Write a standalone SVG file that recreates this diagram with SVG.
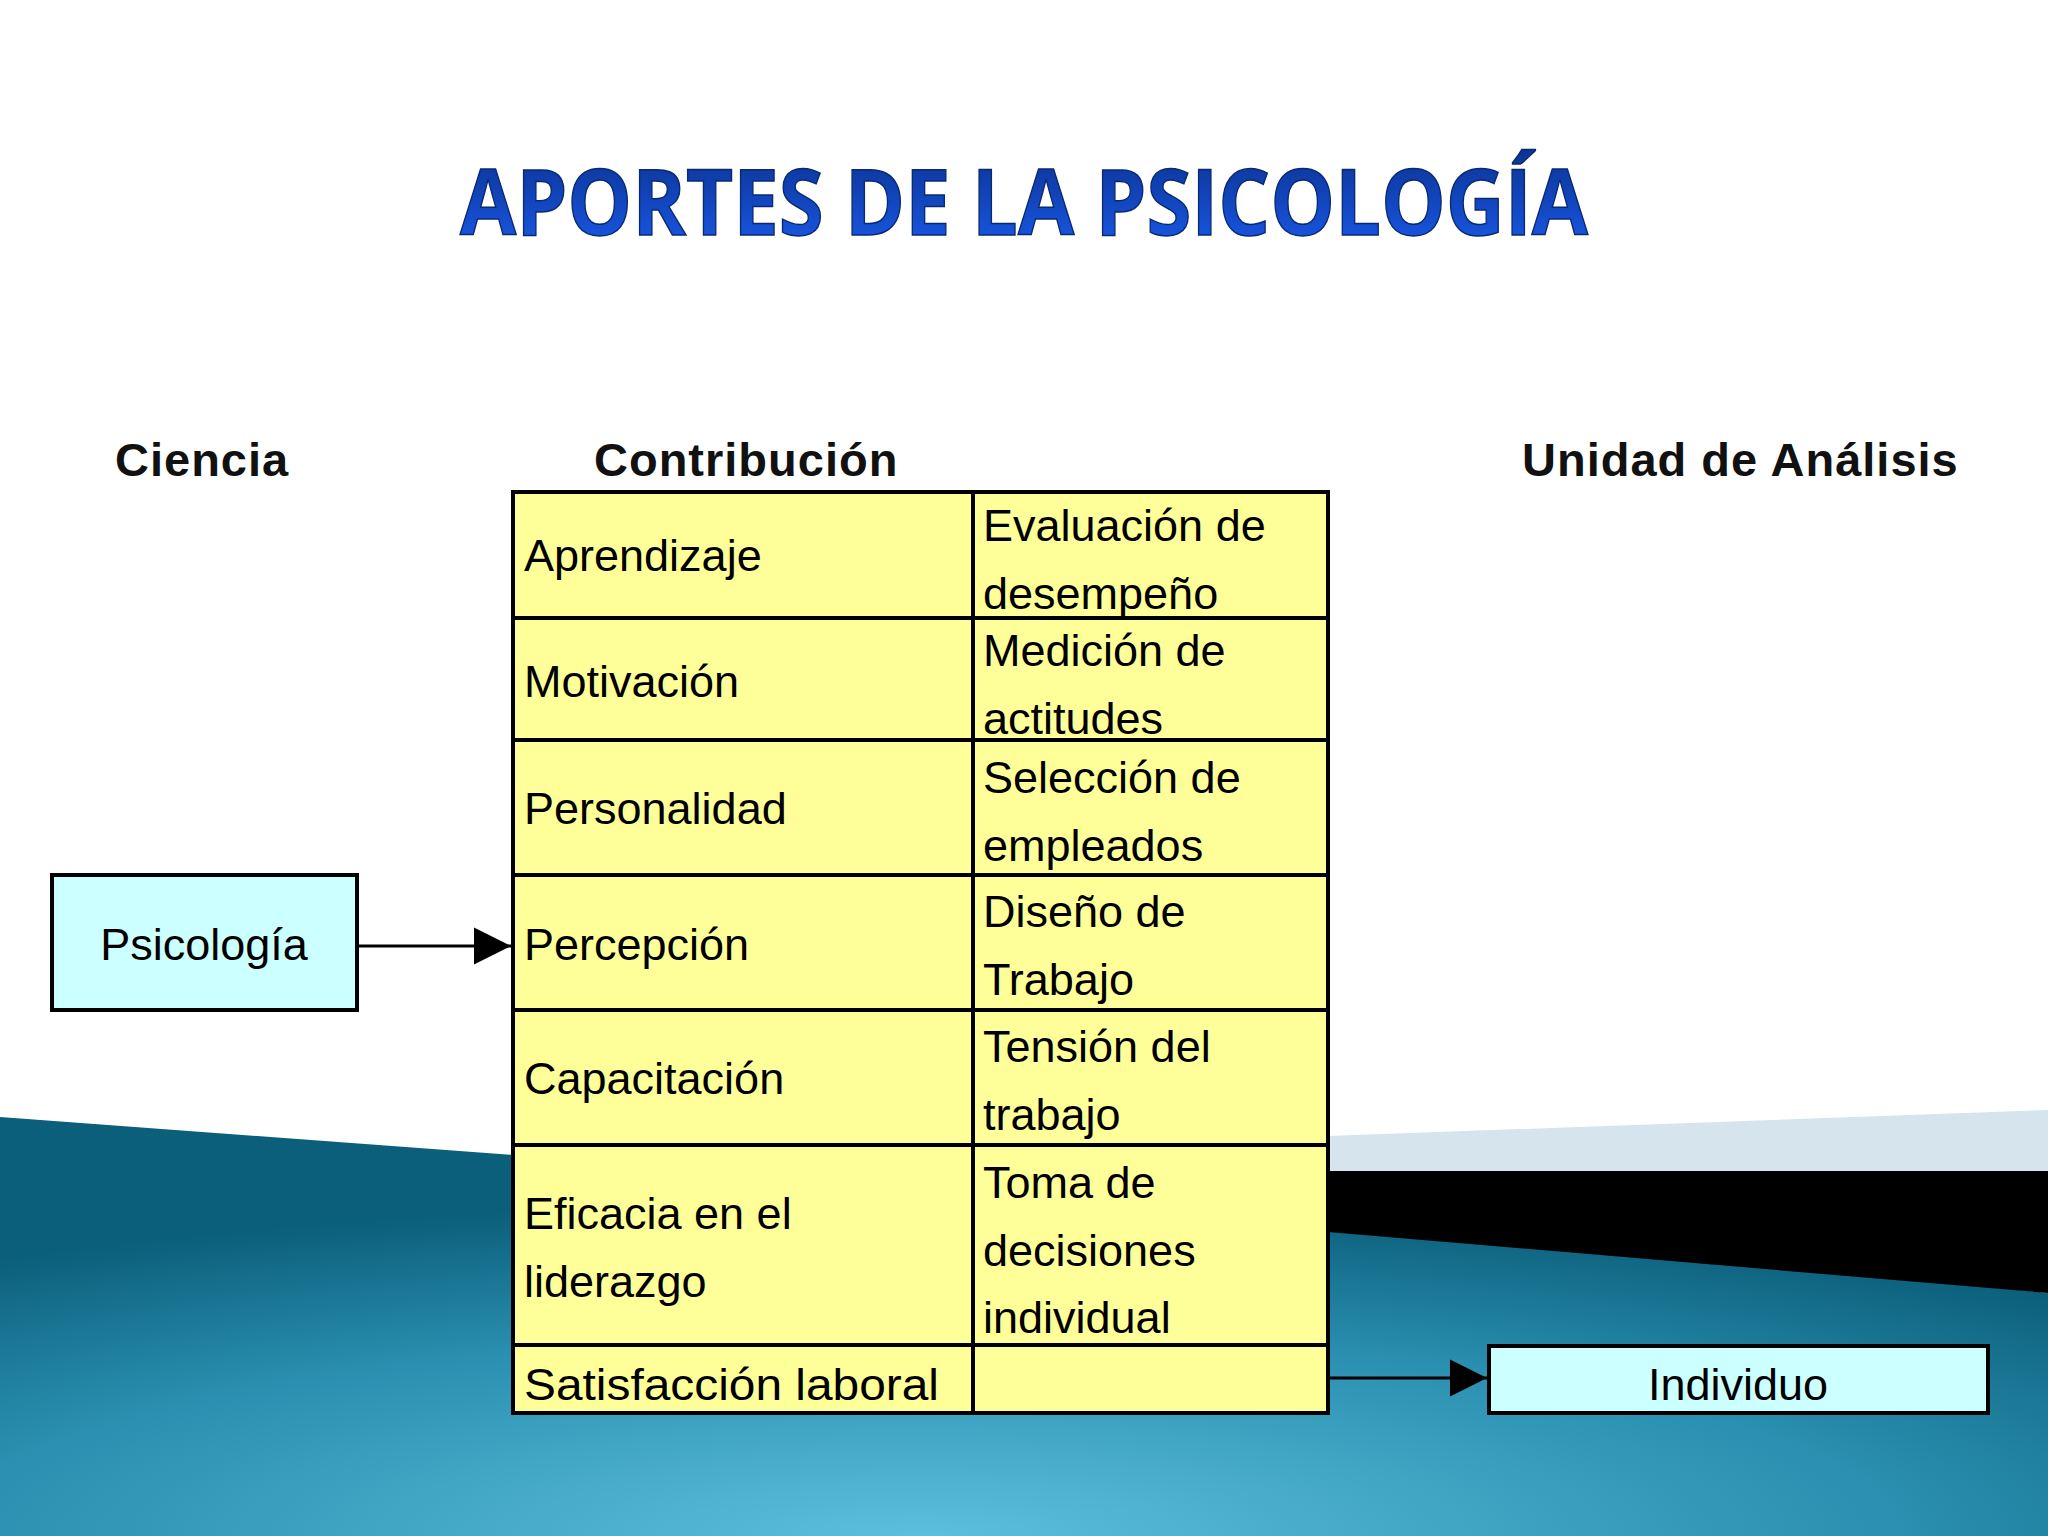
<svg xmlns="http://www.w3.org/2000/svg" width="2048" height="1536" viewBox="0 0 2048 1536">
<defs>
<radialGradient id="sea" cx="0.45" cy="1" r="0.8">
<stop offset="0" stop-color="#5cbfdc"/>
<stop offset="0.6" stop-color="#2a8fb0"/>
<stop offset="1" stop-color="#0b5f7a"/>
</radialGradient>
<linearGradient id="tg" x1="0" y1="0" x2="0" y2="1">
<stop offset="0" stop-color="#0a2f8a"/>
<stop offset="1" stop-color="#1a5cf0"/>
</linearGradient>
<marker id="ah2" viewBox="0 0 10 10" refX="10" refY="5" markerWidth="37" markerHeight="40" markerUnits="userSpaceOnUse" orient="auto"><path d="M0,0 L10,5 L0,10z" fill="#000"/></marker>
</defs>
<style>
.h{font-family:"Liberation Sans",Arial,sans-serif;font-weight:bold;font-size:47px;fill:#111;letter-spacing:1px}
.c{font-family:"Liberation Sans",Arial,sans-serif;font-size:45px;fill:#000}
.cell{fill:#ffff99;stroke:#000;stroke-width:4}
.box{fill:#ccffff;stroke:#000;stroke-width:4}
</style>
<rect width="2048" height="1536" fill="#fff"/>
<polygon points="0,1117 1328,1215 2048,1293 2048,1536 0,1536" fill="url(#sea)"/>
<polygon points="1328,1136 2048,1110 2048,1171 1328,1171" fill="#d6e4ee"/>
<polygon points="1328,1171 2048,1171 2048,1293 1328,1232" fill="#000"/>
<text x="1024" y="235" text-anchor="middle" font-family="Open Sans,sans-serif" font-weight="bold" font-size="92" fill="url(#tg)" stroke="#0a2a70" stroke-width="1.5" textLength="1128" lengthAdjust="spacingAndGlyphs">APORTES DE LA PSICOLOGÍA</text>
<g id="headers">
<text class="h" x="115" y="476">Ciencia</text>
<text class="h" x="594" y="476">Contribución</text>
<text class="h" x="1522" y="476">Unidad de Análisis</text>
</g>
<g id="table">
<rect class="cell" x="513" y="492" width="815" height="921"/>
<g stroke="#000" stroke-width="4">
<line x1="973" y1="492" x2="973" y2="1413"/>
<line x1="513" y1="618" x2="1328" y2="618"/>
<line x1="513" y1="740" x2="1328" y2="740"/>
<line x1="513" y1="875" x2="1328" y2="875"/>
<line x1="513" y1="1010" x2="1328" y2="1010"/>
<line x1="513" y1="1145" x2="1328" y2="1145"/>
<line x1="513" y1="1345" x2="1328" y2="1345"/>
</g>
<text class="c" x="524" y="571">Aprendizaje</text>
<text class="c" x="983" y="541">Evaluación de</text>
<text class="c" x="983" y="609">desempeño</text>
<text class="c" x="524" y="697">Motivación</text>
<text class="c" x="983" y="666">Medición de</text>
<text class="c" x="983" y="734">actitudes</text>
<text class="c" x="524" y="824">Personalidad</text>
<text class="c" x="983" y="793">Selección de</text>
<text class="c" x="983" y="861">empleados</text>
<text class="c" x="524" y="960">Percepción</text>
<text class="c" x="983" y="927">Diseño de</text>
<text class="c" x="983" y="995">Trabajo</text>
<text class="c" x="524" y="1094">Capacitación</text>
<text class="c" x="983" y="1062">Tensión del</text>
<text class="c" x="983" y="1130">trabajo</text>
<text class="c" x="524" y="1229">Eficacia en el</text>
<text class="c" x="524" y="1297">liderazgo</text>
<text class="c" x="983" y="1198">Toma de</text>
<text class="c" x="983" y="1266">decisiones</text>
<text class="c" x="983" y="1333">individual</text>
<text class="c" x="524" y="1400" textLength="415" lengthAdjust="spacingAndGlyphs">Satisfacción laboral</text>
</g>
<g id="psicologia">
<rect class="box" x="52" y="875" width="305" height="135"/>
<text class="c" x="204" y="960" text-anchor="middle">Psicología</text>
</g>
<g id="individuo">
<rect class="box" x="1489" y="1346" width="499" height="67"/>
<text class="c" x="1738" y="1400" text-anchor="middle">Individuo</text>
</g>
<g id="connectors" stroke="#000" stroke-width="3" fill="none">
<line x1="357" y1="946" x2="511" y2="946" marker-end="url(#ah2)"/>
<path d="M1328,1378 H1487" marker-end="url(#ah2)"/>
</g>
</svg>
